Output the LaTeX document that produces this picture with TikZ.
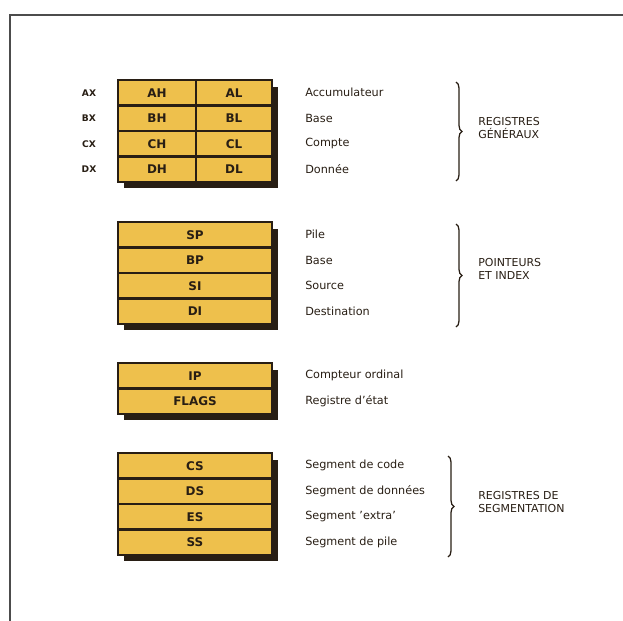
\documentclass[tikz,border=0pt]{standalone}
\usepackage{fontspec}
\setsansfont{DejaVu Sans}
\usetikzlibrary{calc}
\usetikzlibrary{backgrounds}
\usetikzlibrary{decorations.pathreplacing}
\definecolor{regfill}{RGB}{238,192,76}
\definecolor{ink}{RGB}{40,30,20}
\tikzset{reg/.style={draw=ink, line width=1.5pt, fill=regfill, inner sep=0pt, outer sep=0pt, minimum height=6.375mm, text=ink, font=\sffamily\bfseries\fontsize{8.5}{9}\selectfont},
  wide/.style={reg, minimum width=38.5mm},
  half/.style={reg, minimum width=19.25mm},
  desc/.style={anchor=west, inner sep=0pt, text=ink, font=\sffamily\fontsize{8}{9}\selectfont},
  regtag/.style={inner sep=0pt, text=ink, font=\sffamily\bfseries\fontsize{6.5}{7}\selectfont},
  groupname/.style={anchor=west, align=left, inner sep=0pt, text=ink, font=\sffamily\fontsize{7.8}{9.6}\selectfont},
  accolade/.style={decorate, decoration={brace, amplitude=1.5mm}, line width=0.9pt, draw=ink},
  shade/.style={fill=ink}}

\begin{document}
\begin{tikzpicture}[x=0.25mm, y=-0.25mm]
\useasboundingbox (0,0) rectangle (623,621);
\draw[line width=1pt, black!70] (623,15) -- (10,15) -- (10,621);

\node (ah) at (157,92.75) [half, minimum width=19.5mm] {AH};
\node (al) at (234,92.75) [half, minimum width=19mm] {AL};
\node (bh) at (157,118.25) [half, minimum width=19.5mm] {BH};
\node (bl) at (234,118.25) [half, minimum width=19mm] {BL};
\node (ch) at (157,143.75) [half, minimum width=19.5mm] {CH};
\node (cl) at (234,143.75) [half, minimum width=19mm] {CL};
\node (dh) at (157,169.25) [half, minimum width=19.5mm] {DH};
\node (dl) at (234,169.25) [half, minimum width=19mm] {DL};

\node (ax) at (89,92.75) [regtag] {AX};
\node (bx) at (89,118.25) [regtag] {BX};
\node (cx) at (89,143.75) [regtag] {CX};
\node (dx) at (89,169.25) [regtag] {DX};

\node (accu) at (305,92.75) [desc] {Accumulateur};
\node (base) at (305,118.25) [desc] {Base};
\node (compte) at (305,143.75) [desc] {Compte};
\node (donnee) at (305,169.25) [desc] {Donnée};

\coordinate (gtop) at (456,82);
\coordinate (gbot) at (456,181);
\draw[accolade] (gtop) -- (gbot);
\node (generaux) at (478,128) [groupname] {REGISTRES\\GÉNÉRAUX};

\node (sp) at (195,234.75) [wide] {SP};
\node (bp) at (195,260.25) [wide] {BP};
\node (si) at (195,285.75) [wide] {SI};
\node (di) at (195,311.25) [wide] {DI};

\node (pile) at (305,234.75) [desc] {Pile};
\node (bbase) at (305,260.25) [desc] {Base};
\node (source) at (305,285.75) [desc] {Source};
\node (dest) at (305,311.25) [desc] {Destination};

\coordinate (ptop) at (456,224);
\coordinate (pbot) at (456,327);
\draw[accolade] (ptop) -- (pbot);
\node (pointeurs) at (478,269) [groupname] {POINTEURS\\ET INDEX};

\node (ip) at (195,375.75) [wide] {IP};
\node (flags) at (195,401.25) [wide] {FLAGS};

\node (ordinal) at (305,375.75) [desc] {Compteur ordinal};
\node (etat) at (305,401.25) [desc] {Registre d'état};

\node (cs) at (195,465.75) [wide] {CS};
\node (ds) at (195,491.25) [wide] {DS};
\node (es) at (195,516.75) [wide] {ES};
\node (ss) at (195,542.25) [wide] {SS};

\node (code) at (305,465.75) [desc] {Segment de code};
\node (donnees) at (305,491.25) [desc] {Segment de données};
\node (extra) at (305,516.75) [desc] {Segment 'extra'};
\node (segpile) at (305,542.25) [desc] {Segment de pile};

\coordinate (stop) at (448,456);
\coordinate (sbot) at (448,557);
\draw[accolade] (stop) -- (sbot);
\node (segmentation) at (478,502) [groupname] {REGISTRES DE\\SEGMENTATION};

\begin{scope}[on background layer]
\fill[shade] ($(ah.north west)+(6,7)$) rectangle ($(dl.south east)+(6,6)$);
\fill[shade] ($(sp.north west)+(6,7)$) rectangle ($(di.south east)+(6,6)$);
\fill[shade] ($(ip.north west)+(6,7)$) rectangle ($(flags.south east)+(6,6)$);
\fill[shade] ($(cs.north west)+(6,7)$) rectangle ($(ss.south east)+(6,6)$);
\end{scope}
\end{tikzpicture}
\end{document}
